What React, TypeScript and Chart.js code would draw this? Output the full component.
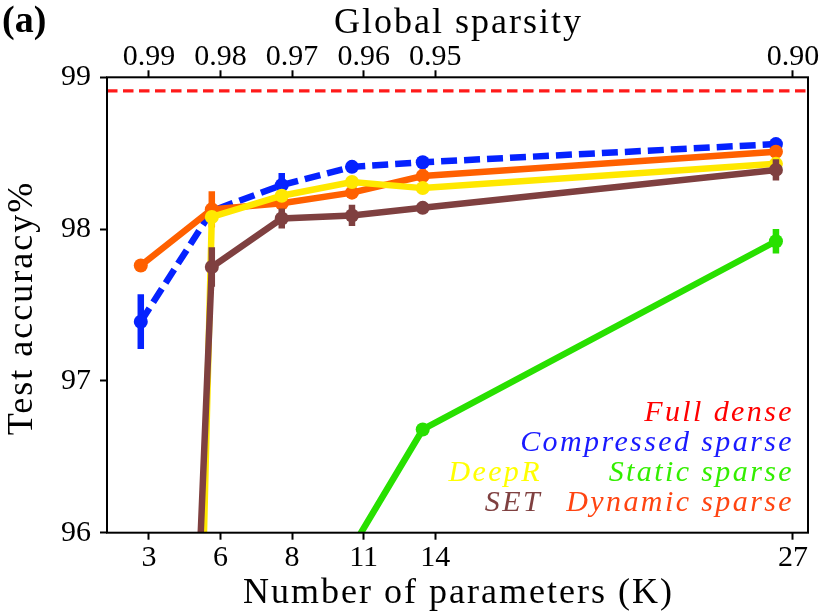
import { useEffect, useRef } from "react"
import { Chart, registerables } from "chart.js"

Chart.register(...registerables)

// number of parameters (K) for each sparsity level
const params = [2.39, 5.07, 7.71, 10.36, 13.03, 26.36]

// test accuracy (%) per method, with error bars
const fullDense = 98.91
const compressedSparse = [97.39, 98.12, 98.29, 98.41, 98.44, 98.56]
const compressedErr = [0.18, 0.03, 0.08, 0.03, 0.04, 0.03]
const dynamicSparse = [97.76, 98.13, 98.17, 98.24, 98.35, 98.51]
const dynamicErr = [0.02, 0.12, 0.03, 0.03, 0.045, 0.03]
const deepR = [79.2, 98.08, 98.22, 98.31, 98.27, 98.43]
const deepRErr = [0.5, 0.04, 0.03, 0.03, 0.03, 0.03]
const staticSparse = [88.5, 93.2, 95.1, 95.9, 96.68, 97.92]
const staticErr = [0.5, 0.3, 0.1, 0.06, 0.03, 0.08]
const setAcc = [86.5, 97.75, 98.07, 98.09, 98.14, 98.39]
const setErr = [0.5, 0.13, 0.066, 0.07, 0.03, 0.07]

// axes
const paramRange = [1.115, 27.57]
const paramTicks = [2.7, 5.4, 8.1, 10.8, 13.5, 27]
const paramTickLabels = ["3", "6", "8", "11", "14", "27"]
const totalParamsK = 270
const sparsityTicks = [0.99, 0.98, 0.97, 0.96, 0.95, 0.9]
const sparsityTickLabels = ["0.99", "0.98", "0.97", "0.96", "0.95", "0.90"]
const accuracyRange = [96, 99]

const SERIF = '"Liberation Serif", "Times New Roman", serif'

const errorsByLabel: Record<string, number[]> = {
  "Compressed sparse": compressedErr,
  "Dynamic sparse": dynamicErr,
  DeepR: deepRErr,
  "Static sparse": staticErr,
  SET: setErr,
}

const legendEntries = [
  { text: "Full dense", color: "#ff0000", col: 1, row: 0 },
  { text: "Compressed sparse", color: "#1a1aff", col: 1, row: 1 },
  { text: "DeepR", color: "#ffff00", col: 0, row: 2 },
  { text: "Static sparse", color: "#33ee00", col: 1, row: 2 },
  { text: "SET", color: "#7f4040", col: 0, row: 3 },
  { text: "Dynamic sparse", color: "#ff4411", col: 1, row: 3 },
]

const errorBarPlugin = {
  id: "errorBars",
  beforeDatasetDraw(chart: any, args: any) {
    const ds = chart.data.datasets[args.index]
    const errs = errorsByLabel[ds.label]
    if (!errs) return
    const { ctx, chartArea: a } = chart
    const y = chart.scales.y
    ctx.save()
    ctx.beginPath()
    ctx.rect(a.left, a.top, a.right - a.left, a.bottom - a.top)
    ctx.clip()
    ctx.setLineDash([])
    ctx.strokeStyle = ds.borderColor
    ctx.lineWidth = ds.borderWidth
    ctx.lineCap = "butt"
    args.meta.data.forEach((pt: any, i: number) => {
      const v = ds.data[i].y
      ctx.beginPath()
      ctx.moveTo(pt.x, y.getPixelForValue(v - errs[i]))
      ctx.lineTo(pt.x, y.getPixelForValue(v + errs[i]))
      ctx.stroke()
    })
    ctx.restore()
  },
}

const decorPlugin = {
  id: "decor",
  afterDraw(chart: any) {
    const { ctx, chartArea: a } = chart
    ctx.save()
    ctx.setLineDash([])
    ctx.strokeStyle = "#000"
    ctx.lineWidth = 2
    ctx.strokeRect(a.left, a.top, a.right - a.left, a.bottom - a.top)

    // axis titles
    ctx.fillStyle = "#000"
    ctx.font = `36px ${SERIF}`
    ctx.letterSpacing = "2px"
    ctx.textAlign = "center"
    ctx.textBaseline = "alphabetic"
    const cx = (a.left + a.right) / 2 + 1
    ctx.fillText("Global sparsity", cx, 33)
    ctx.fillText("Number of parameters (K)", cx, 603)
    ctx.save()
    ctx.translate(32, (a.top + a.bottom) / 2 + 4)
    ctx.rotate(-Math.PI / 2)
    ctx.fillText("Test accuracy%", 1, 0)
    ctx.restore()

    // legend text
    ctx.font = `italic 30px ${SERIF}`
    ctx.letterSpacing = "2.4px"
    ctx.textAlign = "right"
    const colRight = [a.left + 435, a.right - 14]
    legendEntries.forEach((e) => {
      ctx.fillStyle = e.color
      ctx.fillText(e.text, colRight[e.col], a.bottom - 112 + e.row * 30)
    })

    // panel label
    ctx.letterSpacing = "0px"
    ctx.textAlign = "left"
    ctx.fillStyle = "#000"
    ctx.font = `bold 38px ${SERIF}`
    ctx.fillText("(a)", 2, 32)
    ctx.restore()
  },
}

const tickGrid = {
  display: true,
  drawOnChartArea: false,
  drawTicks: true,
  tickLength: 7,
  tickWidth: 2,
  tickColor: "#000",
}

export default function App() {
  const chartRef = useRef<HTMLCanvasElement>(null)
  const chartInstance = useRef<Chart | null>(null)

  useEffect(() => {
    if (!chartRef.current) return
    if (chartInstance.current) chartInstance.current.destroy()
    const ctx = chartRef.current.getContext("2d")
    if (!ctx) return

    const series = (label: string, values: number[], color: string, order: number, dash: number[] = []) => ({
      label,
      data: params.map((x, i) => ({ x, y: values[i] })),
      borderColor: color,
      backgroundColor: color,
      pointBackgroundColor: color,
      borderWidth: 6.5,
      borderDash: dash,
      pointRadius: 7,
      pointBorderWidth: 0,
      tension: 0,
      order,
      clip: 0,
    })

    chartInstance.current = new Chart(ctx, {
      type: "line",
      data: {
        datasets: [
          series("SET", setAcc, "#7f4040", 0),
          series("Static sparse", staticSparse, "#28e000", 1),
          series("DeepR", deepR, "#ffe800", 2),
          series("Dynamic sparse", dynamicSparse, "#ff6000", 3),
          series("Compressed sparse", compressedSparse, "#0522ff", 4, [16, 7]),
          {
            label: "Full dense",
            data: paramRange.map((x) => ({ x, y: fullDense })),
            borderColor: "#ff1a1a",
            borderWidth: 3.2,
            borderDash: [10.5, 5.5],
            pointRadius: 0,
            order: 5,
            clip: 0,
          },
        ] as any,
      },
      options: {
        animation: false,
        responsive: false,
        events: [],
        layout: { padding: { left: 0, right: 22, top: 0, bottom: 0 } },
        plugins: {
          legend: { display: false },
          tooltip: { enabled: false },
        },
        scales: {
          x: {
            type: "linear",
            position: "bottom",
            bounds: "data",
            min: paramRange[0],
            max: paramRange[1],
            afterBuildTicks: (s: any) => {
              s.ticks = paramTicks.map((value) => ({ value }))
            },
            afterFit: (s: any) => {
              s.height = 83.3
            },
            ticks: {
              autoSkip: false,
              maxRotation: 0,
              padding: 0,
              color: "#000",
              font: { family: SERIF, size: 30 },
              callback: (v: any) => paramTickLabels[paramTicks.indexOf(Number(v))],
            },
            grid: tickGrid,
            border: { display: false },
          },
          x2: {
            type: "linear",
            position: "top",
            bounds: "data",
            min: paramRange[0],
            max: paramRange[1],
            afterBuildTicks: (s: any) => {
              s.ticks = sparsityTicks.map((sp) => ({ value: (1 - sp) * totalParamsK }))
            },
            afterFit: (s: any) => {
              s.height = 77.3
            },
            ticks: {
              autoSkip: false,
              maxRotation: 0,
              padding: 0,
              color: "#000",
              font: { family: SERIF, size: 30, lineHeight: 0.9 },
              callback: (_v: any, i: number) => sparsityTickLabels[i],
            },
            grid: tickGrid,
            border: { display: false },
          },
          y: {
            type: "linear",
            position: "left",
            min: accuracyRange[0],
            max: accuracyRange[1],
            afterFit: (s: any) => {
              s.width = 107
            },
            ticks: {
              stepSize: 1,
              padding: 9,
              color: "#000",
              font: { family: SERIF, size: 30 },
            },
            grid: tickGrid,
            border: { display: false },
          },
        },
      } as any,
      plugins: [errorBarPlugin, decorPlugin],
    })

    return () => {
      if (chartInstance.current) {
        chartInstance.current.destroy()
        chartInstance.current = null
      }
    }
  }, [])

  return (
    <div style={{ position: "fixed", left: 0, top: 0, width: 830, height: 616, background: "#fff" }}>
      <canvas ref={chartRef} width={830} height={616} />
    </div>
  )
}
